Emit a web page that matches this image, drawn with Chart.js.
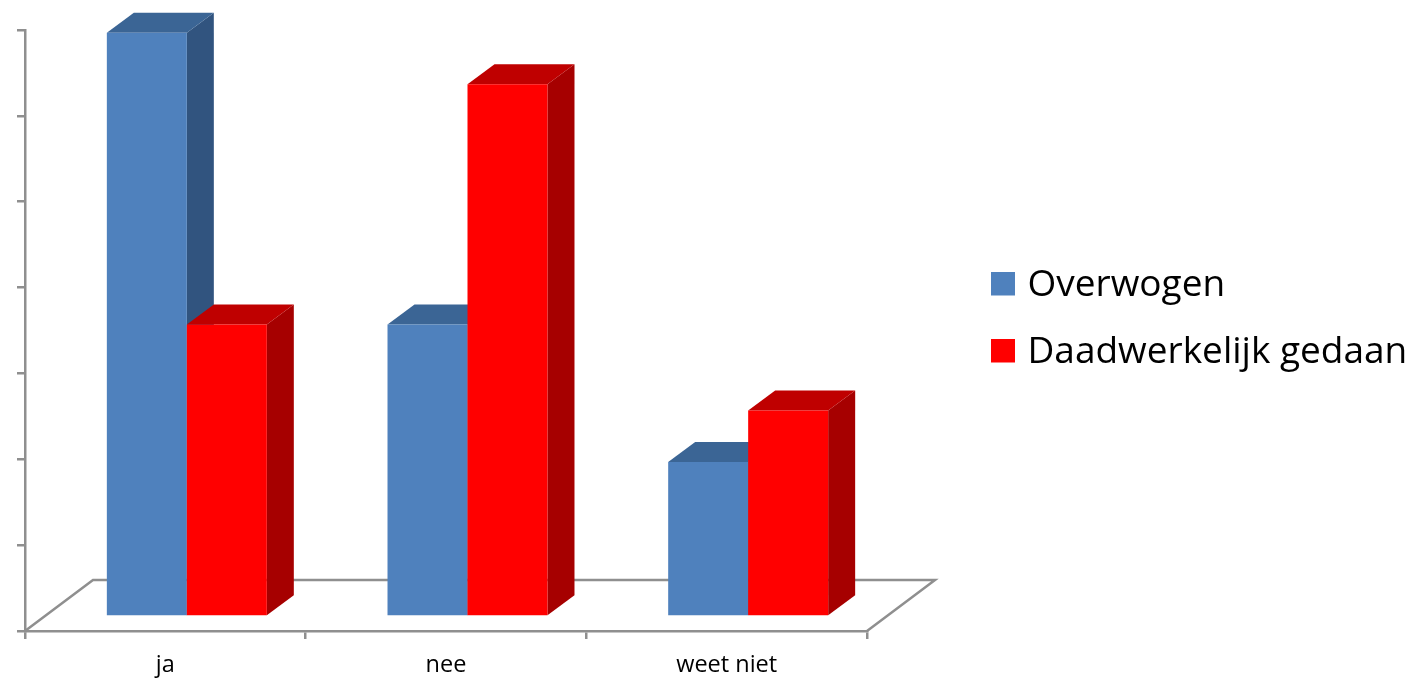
<!DOCTYPE html>
<html lang="nl">
<head>
    <meta charset="UTF-8">
    <title>Overwogen / Daadwerkelijk gedaan</title>
    <script src="https://cdn.jsdelivr.net/npm/chart.js"></script>
    <style>
        body { margin: 0; background: white; }
        canvas { display: block; }
    </style>
</head>
<body>
    <canvas id="barChart" width="1413" height="678"></canvas>

    <script>
        const categories = ['ja', 'nee', 'weet niet'];
        const overwogen = [34, 17, 9];
        const gedaan = [17, 31, 12];
        const yTicks = [0, 5, 10, 15, 20, 25, 30, 35];

        const axisGrey = '#8f8f8f';
        const labelFont = '"Open Sans", sans-serif';

        // the bars stand a little behind the axis plane, on the floor
        const barShift = { x: 21.5, y: -14.5 };
        const barDepth = { x: 27, y: -20 };
        const floorDepth = { x: 68, y: -51 };

        function drawBarFaces(ctx, meta, ds) {
            meta.data.forEach(bar => {
                const left = bar.x - bar.width / 2;
                const right = bar.x + bar.width / 2;
                ctx.fillStyle = ds.sideColor;
                ctx.beginPath();
                ctx.moveTo(right, bar.y);
                ctx.lineTo(right + barDepth.x, bar.y + barDepth.y);
                ctx.lineTo(right + barDepth.x, bar.base + barDepth.y);
                ctx.lineTo(right, bar.base);
                ctx.closePath();
                ctx.fill();
                ctx.fillStyle = ds.topColor;
                ctx.beginPath();
                ctx.moveTo(left, bar.y);
                ctx.lineTo(left + barDepth.x, bar.y + barDepth.y);
                ctx.lineTo(right + barDepth.x, bar.y + barDepth.y);
                ctx.lineTo(right, bar.y);
                ctx.closePath();
                ctx.fill();
            });
        }

        // legend square as a point style, so the text can sit closer than font size / 2
        // (canvas is 4px taller than the square to lift it 2px against the text)
        function swatch(color) {
            const c = document.createElement('canvas');
            c.width = 24;
            c.height = 28;
            const g = c.getContext('2d');
            g.fillStyle = color;
            g.fillRect(0, 0, 24, 24);
            return c;
        }

        // fake 3D: floor, then left to right the side and top faces with the library's front face
        const bars3d = {
            id: 'bars3d',
            beforeDatasetDraw() {
                return false; // drawn below, chart.js would go last dataset first
            },
            beforeDatasetsDraw(chart) {
                const { ctx, chartArea: a } = chart;
                ctx.save();
                ctx.strokeStyle = axisGrey;
                ctx.lineWidth = 2.5;
                ctx.beginPath();
                ctx.moveTo(a.left, a.bottom);
                ctx.lineTo(a.left + floorDepth.x, a.bottom + floorDepth.y);
                ctx.lineTo(a.right + floorDepth.x, a.bottom + floorDepth.y);
                ctx.lineTo(a.right, a.bottom);
                ctx.stroke();
                ctx.restore();
            },
            afterDatasetsDraw(chart) {
                const ctx = chart.ctx;
                ctx.save();
                ctx.translate(barShift.x, barShift.y);
                chart.getSortedVisibleDatasetMetas().forEach(meta => {
                    drawBarFaces(ctx, meta, chart.data.datasets[meta.index]);
                    meta.controller.draw();
                });
                ctx.restore();
            },
            // legend sits away from the plot, pin it where it belongs
            afterLayout(chart) {
                const legend = chart.legend;
                const pad = legend.options.labels.padding;
                legend.left = 997 - pad;
                legend.right = 1413;
                legend.top = 267 - pad;
                legend.bottom = 678;
            }
        };

        new Chart(document.getElementById('barChart'), {
            type: 'bar',
            data: {
                labels: categories,
                datasets: [
                    { label: 'Overwogen', data: overwogen, backgroundColor: '#4f81bd', sideColor: '#31547f', topColor: '#3b6595' },
                    { label: 'Daadwerkelijk gedaan', data: gedaan, backgroundColor: '#ff0000', sideColor: '#a60000', topColor: '#bf0000' }
                ]
            },
            options: {
                responsive: false,
                animation: false,
                categoryPercentage: 0.57,
                barPercentage: 1,
                layout: { padding: { top: 30, right: 206, bottom: 0, left: 0 } },
                scales: {
                    x: {
                        grid: { drawOnChartArea: false, color: axisGrey, lineWidth: 2.5, tickLength: 8 },
                        border: { color: axisGrey, width: 2.5 },
                        ticks: { color: '#000', font: { family: labelFont, size: 23.5 }, padding: 12, maxRotation: 0 },
                        afterFit(scale) { scale.height = 47; }
                    },
                    y: {
                        min: 0,
                        max: 35,
                        afterBuildTicks(scale) { scale.ticks = yTicks.map(v => ({ value: v })); },
                        grid: { drawOnChartArea: false, color: axisGrey, lineWidth: 2.5, tickLength: 8 },
                        border: { color: axisGrey, width: 2.5 },
                        ticks: { display: false },
                        afterFit(scale) { scale.width = 25; }
                    }
                },
                plugins: {
                    tooltip: { enabled: false },
                    legend: {
                        position: 'right',
                        align: 'start',
                        maxWidth: 340,
                        labels: {
                            color: '#000',
                            usePointStyle: true,
                            pointStyleWidth: 12,
                            padding: 30,
                            font: { family: labelFont, size: 37 },
                            generateLabels(chart) {
                                return Chart.defaults.plugins.legend.labels.generateLabels(chart)
                                    .map(item => ({ ...item, pointStyle: swatch(item.fillStyle) }));
                            }
                        }
                    }
                }
            },
            plugins: [bars3d]
        });
    </script>
</body>
</html>
